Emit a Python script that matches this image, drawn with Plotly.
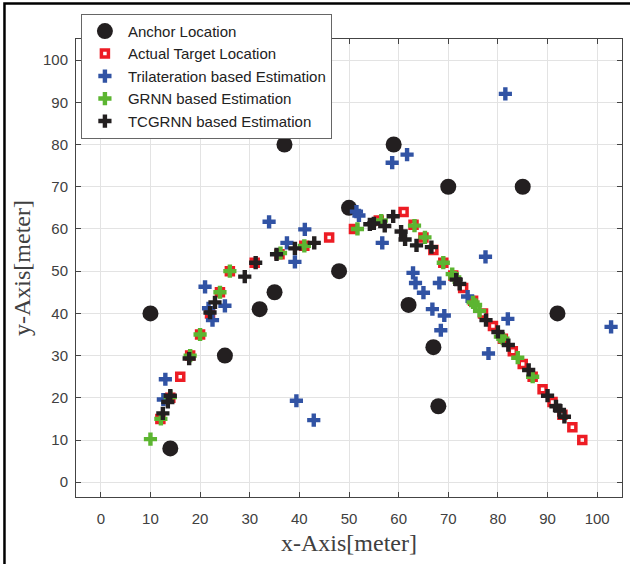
import plotly.graph_objects as go

# Anchor locations
anchor_x = [10, 14, 25, 32, 35, 37, 48, 50, 59, 62, 67, 68, 70, 85, 92]
anchor_y = [40, 8, 30, 41, 45, 80, 50, 65, 80, 42, 32, 18, 70, 70, 40]

# Actual target locations
target_x = [12, 14, 16, 18, 20, 22, 24, 26, 31, 36, 41, 46, 51, 56, 61, 63, 65, 67, 69, 71,
            73, 75, 77, 79, 81, 83, 85, 87, 89, 91, 93, 95, 97]
target_y = [15, 20, 25, 30, 35, 40, 45, 50, 52, 54, 56, 58, 60, 62, 64, 61, 58, 55, 52, 49,
            46, 43, 40, 37, 34, 31, 28, 25, 22, 19, 16, 13, 10]

# Trilateration based estimation
tri_x = [13.0, 12.6, 21.0, 25.0, 21.7, 22.5, 33.9, 37.5, 39.1, 41.1, 39.4, 42.9, 51.5, 52.0,
         56.7, 58.7, 61.7, 62.9, 63.4, 65.0, 66.8, 68.2, 68.5, 69.2, 73.9, 77.5, 78.1, 81.5,
         82.0, 102.8]
tri_y = [24.4, 19.6, 46.3, 41.8, 41.2, 38.4, 61.7, 56.7, 52.2, 59.9, 19.3, 14.7, 64.1, 63.2,
         56.7, 75.7, 77.6, 49.6, 47.2, 44.9, 41.0, 47.2, 36.0, 39.5, 44.0, 53.4, 30.5, 92.0,
         38.7, 36.8]

# GRNN based estimation
grnn_x = [10.0, 12.1, 14.0, 18.0, 20.0, 24.0, 26.0, 36.2, 41.0, 51.7, 56.5, 63.2, 65.3, 69.0,
          70.8, 71.3, 75.0, 75.5, 76.3, 80.5, 81.0, 84.0, 87.0]
grnn_y = [10.2, 15.0, 20.2, 30.0, 35.0, 45.0, 50.0, 54.3, 56.0, 60.0, 62.0, 60.8, 58.0, 52.0,
          49.3, 48.5, 42.6, 42.0, 40.6, 34.5, 34.0, 29.5, 25.0]

# TCGRNN based estimation
tc_x = [12.5, 13.5, 14.0, 17.8, 22.0, 23.0, 29.0, 31.2, 35.4, 39.1, 43.0, 54.2, 55.0, 57.2,
        58.9, 60.5, 61.3, 63.6, 66.6, 71.6, 72.3, 77.6, 80.0, 82.1, 86.2, 90.0, 91.7, 92.4, 93.4]
tc_y = [16.3, 19.0, 20.5, 29.3, 40.2, 42.6, 48.7, 52.0, 54.0, 55.4, 56.7, 61.1, 61.3, 60.7,
        63.0, 59.4, 57.5, 56.1, 55.7, 48.0, 47.0, 38.4, 35.6, 32.5, 26.6, 20.5, 18.0, 17.1, 15.5]

tick_vals = [0, 10, 20, 30, 40, 50, 60, 70, 80, 90, 100]

fig = go.Figure()
fig.add_trace(go.Scatter(x=anchor_x, y=anchor_y, mode="markers", name="Anchor Location",
                         marker=dict(symbol="circle", size=16, color="#231f20")))
fig.add_trace(go.Scatter(x=target_x, y=target_y, mode="markers", name="Actual Target Location",
                         marker=dict(symbol="square-open", size=7, color="#ed1c24",
                                     line=dict(width=3.5, color="#ed1c24"))))
fig.add_trace(go.Scatter(x=tri_x, y=tri_y, mode="markers", name="Trilateration based Estimation",
                         marker=dict(symbol="cross", size=11, color="#3153a4")))
fig.add_trace(go.Scatter(x=grnn_x, y=grnn_y, mode="markers", name="GRNN based Estimation",
                         marker=dict(symbol="cross", size=11, color="#5cb531")))
fig.add_trace(go.Scatter(x=tc_x, y=tc_y, mode="markers", name="TCGRNN based Estimation",
                         marker=dict(symbol="cross", size=11, color="#231f20")))

axis_common = dict(
    showgrid=True, gridcolor="#e3e3e3", gridwidth=1,
    showline=True, linecolor="#444444", linewidth=1, mirror="ticks",
    ticks="inside", ticklen=5, tickcolor="#444444",
    tickvals=tick_vals, zeroline=False,
    tickfont=dict(family="Liberation Sans, Arial, sans-serif", size=15, color="#404040"),
)

fig.update_xaxes(range=[-5, 105], title=dict(text="x-Axis[meter]", standoff=8,
                 font=dict(family="Liberation Serif, Times New Roman, serif", size=24, color="#404040")),
                 ticklabelstandoff=8, **axis_common)
fig.update_yaxes(range=[-3.5, 105], title=dict(text="y-Axis[meter]", standoff=5,
                 font=dict(family="Liberation Serif, Times New Roman, serif", size=24, color="#404040")),
                 ticklabelstandoff=4, **axis_common)

fig.update_layout(
    width=630, height=564,
    margin=dict(l=76, r=8, t=39, b=67, autoexpand=False),
    paper_bgcolor="white", plot_bgcolor="white",
    showlegend=True,
    legend=dict(x=0.009, y=1.055, xanchor="left", yanchor="top",
                bgcolor="white", bordercolor="#666666", borderwidth=1,
                font=dict(family="Liberation Sans, Arial, sans-serif", size=15, color="#222222"),
                tracegroupgap=0, itemsizing="trace", itemwidth=36),
    shapes=[dict(type="rect", xref="paper", yref="paper",
                 x0=-0.131, x1=1.3, y0=-0.4, y1=1.0776,
                 line=dict(color="black", width=2.5), layer="above")],
)

fig.write_html("out.html")
